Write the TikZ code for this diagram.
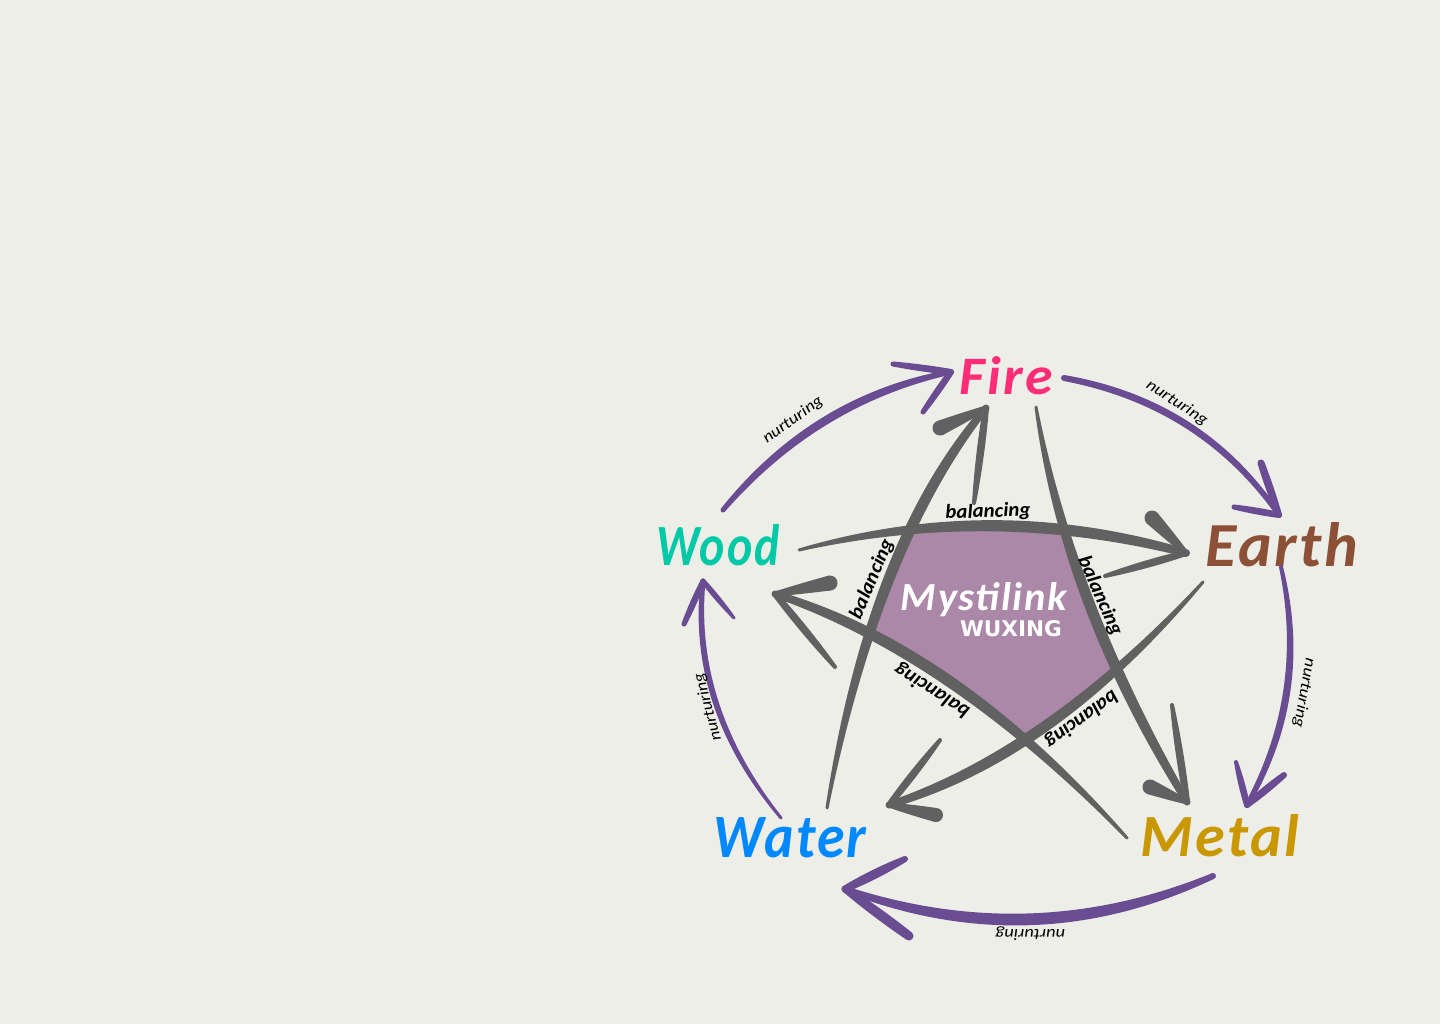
\documentclass[tikz,border=0pt]{standalone}
\usepackage{fontspec}
\setmainfont{Carlito}
\newfontfamily\wuxfont{DejaVu Sans}
\usetikzlibrary{calc}
\definecolor{bgc}{HTML}{EDEEE8}
\definecolor{purp}{HTML}{6A4C93}
\definecolor{greyc}{HTML}{616161}
\definecolor{petal}{HTML}{AC88A8}
\definecolor{firec}{HTML}{FF2D78}
\definecolor{woodc}{HTML}{00C9A7}
\definecolor{earthc}{HTML}{8B5035}
\definecolor{metalc}{HTML}{C99700}
\definecolor{waterc}{HTML}{0088FF}
\tikzset{
  nurture/.style={fill=purp},
  balance/.style={fill=greyc},
  element/.style={inner sep=0pt,font=\bfseries\itshape\addfontfeature{LetterSpace=4}},
  smalllabel/.style={inner sep=0pt,text=black,font=\itshape},
  boldlabel/.style={smalllabel,font=\itshape\bfseries},
}
\newcommand\fitbox[3]{\resizebox{#1pt}{#2pt}{#3}}
% tapered quadratic stroke: start, control, end, start width, control width, end width, style
\newcommand\taper[7]{%
  \pgfmathsetmacro\ha{#4/2}\pgfmathsetmacro\hc{#5/2}\pgfmathsetmacro\hb{#6/2}%
  \coordinate (tS) at #1; \coordinate (tC) at #2; \coordinate (tE) at #3;
  \coordinate (tN) at ($(tS)!\hc pt!90:(tE)$);
  \coordinate (sL) at ($(tS)!\ha pt!90:(tC)$);
  \coordinate (sR) at ($(tS)!\ha pt!-90:(tC)$);
  \coordinate (eL) at ($(tE)!\hb pt!-90:(tC)$);
  \coordinate (eR) at ($(tE)!\hb pt!90:(tC)$);
  \coordinate (cL) at ($(tC)+(tN)-(tS)$);
  \coordinate (cR) at ($(tC)-(tN)+(tS)$);
  \fill[#7] (sL) .. controls ($(sL)!.667!(cL)$) and ($(eL)!.667!(cL)$) .. (eL)
    -- (eR) .. controls ($(eR)!.667!(cR)$) and ($(sR)!.667!(cR)$) .. (sR) -- cycle;
  \fill[#7] (tS) circle (\ha pt);
  \fill[#7] (tE) circle (\hb pt);
}
% barb between a tip and a free end: tip, end, tip width, middle width, end width, style
\newcommand\barb[6]{\taper{(#1)}{($(#1)!.5!(#2)$)}{(#2)}{#3}{#4}{#5}{#6}}
\begin{document}
\begin{tikzpicture}[x=1pt,y=-1pt]
\useasboundingbox (0,0) rectangle (1440,1024);
\fill[bgc] (0,0) rectangle (1440,1024);

% centre pentagon
\fill[petal] (912,532) .. controls (963,522) and (1015,522) .. (1066,532)
  .. controls (1077,578) and (1091,625) .. (1113,672)
  .. controls (1089,696) and (1060,716) .. (1028,737)
  .. controls (976,700) and (925,660) .. (868,628)
  .. controls (879,593) and (893,563) .. (912,532) -- cycle;

% element names
\node[element,text=firec]  (fire)  at (1006,376) {\fitbox{93}{38}{Fire}};
\node[element,text=woodc]  (wood)  at (718,545)  {\fitbox{123}{41}{Wood}};
\node[element,text=earthc] (earth) at (1282,545) {\fitbox{152}{44}{Earth}};
\node[element,text=metalc] (metal) at (1220,836) {\fitbox{158}{42}{Metal}};
\node[element,text=waterc] (water) at (790,838)  {\fitbox{153}{40}{Water}};
\node[element,text=white]  (mystilink) at (984,600) {\fitbox{166}{28}{Mystilink}};
\node[inner sep=0pt,text=white,font=\wuxfont\bfseries\fontsize{21.6}{24}\selectfont] (wuxing) at (1011,629) {WUXING};

% connector ends
\coordinate (woodOut) at (723,510);
\coordinate (fireIn) at (951,372);
\coordinate (fireOut) at (1064,378);
\coordinate (earthIn) at (1279,515);
\coordinate (earthOut) at (1281,567);
\coordinate (metalIn) at (1247,805);
\coordinate (metalOut) at (1213,876);
\coordinate (waterIn) at (845,889);
\coordinate (waterOut) at (781,818);
\coordinate (woodIn) at (703,581);
\coordinate (waterOutB) at (827,808);
\coordinate (fireInB) at (986,408);
\coordinate (fireOutB) at (1036,407);
\coordinate (metalInB) at (1187,802);
\coordinate (metalOutB) at (1127,838);
\coordinate (woodInB) at (775,594);
\coordinate (earthOutB) at (1203,582);
\coordinate (waterInB) at (889,805);
\coordinate (woodOutB) at (799,550);
\coordinate (earthInB) at (1186,553);

% barb ends
\coordinate (b1a) at (893,364); \coordinate (b1b) at (923,412);
\coordinate (b2a) at (1261,463); \coordinate (b2b) at (1234,507);
\coordinate (b3a) at (1236,762); \coordinate (b3b) at (1284,775);
\coordinate (b4a) at (905,859); \coordinate (b4b) at (909,936);
\coordinate (b5a) at (684,624); \coordinate (b5b) at (734,618);
\coordinate (g1a) at (940,428); \coordinate (g1b) at (974,503);
\coordinate (g2a) at (1150,787); \coordinate (g2b) at (1172,705);
\coordinate (g3a) at (830,583); \coordinate (g3b) at (835,667);
\coordinate (g4a) at (940,740); \coordinate (g4b) at (936,815);
\coordinate (g5a) at (1152,518); \coordinate (g5b) at (1105,576);

% nurturing cycle
\taper{(woodOut)}{(816,399)}{(fireIn)}{5}{12}{5}{nurture}
\barb{fireIn}{b1a}{6}{8}{5}{nurture}
\barb{fireIn}{b1b}{6}{8}{5}{nurture}
\taper{(fireOut)}{(1202,403)}{(earthIn)}{6}{9}{5}{nurture}
\barb{earthIn}{b2a}{6}{9}{7}{nurture}
\barb{earthIn}{b2b}{6}{8}{5}{nurture}
\taper{(earthOut)}{(1310,693)}{(metalIn)}{4}{10}{5}{nurture}
\barb{metalIn}{b3a}{6}{8}{4}{nurture}
\barb{metalIn}{b3b}{6}{9}{6}{nurture}
\taper{(metalOut)}{(1032,956)}{(waterIn)}{6}{18}{6}{nurture}
\barb{waterIn}{b4a}{7}{12}{6}{nurture}
\barb{waterIn}{b4b}{7}{12}{9}{nurture}
\taper{(waterOut)}{(690,707)}{(woodIn)}{3}{8}{5}{nurture}
\barb{woodIn}{b5a}{5}{8}{5}{nurture}
\barb{woodIn}{b5b}{5}{7}{3}{nurture}

% balancing star
\taper{(waterOutB)}{(874,543)}{(fireInB)}{3}{17}{7}{balance}
\barb{fireInB}{g1a}{5}{11}{15}{balance}
\barb{fireInB}{g1b}{6}{10}{4}{balance}
\taper{(fireOutB)}{(1068,605)}{(metalInB)}{3}{17}{7}{balance}
\barb{metalInB}{g2a}{5}{11}{15}{balance}
\barb{metalInB}{g2b}{6}{10}{4}{balance}
\taper{(metalOutB)}{(954,651)}{(woodInB)}{3}{18}{7}{balance}
\barb{woodInB}{g3a}{5}{11}{15}{balance}
\barb{woodInB}{g3b}{6}{10}{4}{balance}
\taper{(earthOutB)}{(1050,755)}{(waterInB)}{3}{17}{7}{balance}
\barb{waterInB}{g4a}{6}{10}{4}{balance}
\barb{waterInB}{g4b}{5}{11}{14}{balance}
\taper{(woodOutB)}{(993,500)}{(earthInB)}{3}{17}{8}{balance}
\barb{earthInB}{g5a}{5}{11}{15}{balance}
\barb{earthInB}{g5b}{6}{10}{4}{balance}

% connector labels
\node[smalllabel,rotate=36] (n1) at (793,420) {\fitbox{70}{11}{nurturing}};
\node[smalllabel,rotate=-33] (n2) at (1177,403) {\fitbox{70}{11}{nurturing}};
\node[smalllabel,rotate=-100] (n3) at (1304,693) {\fitbox{70}{11}{nurturing}};
\node[smalllabel,rotate=180] (n4) at (1030,934) {\fitbox{70}{11}{nurturing}};
\node[smalllabel,rotate=105] (n5) at (708,707) {\fitbox{70}{11}{nurturing}};
\node[boldlabel,rotate=2] (b1) at (988,512) {\fitbox{85}{14}{balancing}};
\node[boldlabel,rotate=-66] (b2) at (1100,596) {\fitbox{85}{14}{balancing}};
\node[boldlabel,rotate=216] (b3) at (1081,719) {\fitbox{85}{14}{balancing}};
\node[boldlabel,rotate=148] (b4) at (932,690) {\fitbox{85}{14}{balancing}};
\node[boldlabel,rotate=67] (b5) at (872,579) {\fitbox{85}{14}{balancing}};
\end{tikzpicture}
\end{document}
